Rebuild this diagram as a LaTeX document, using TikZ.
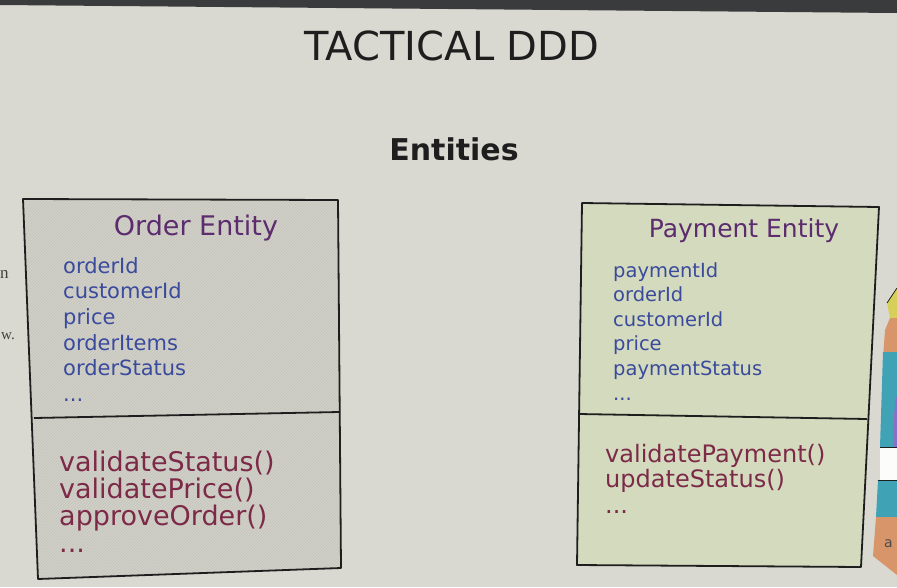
\documentclass[tikz,border=0pt]{standalone}
\usepackage{fontspec}
\setmainfont{DejaVu Sans}
\newfontfamily\paperfont{Liberation Serif}
\usetikzlibrary{patterns}
\definecolor{screen}{HTML}{D9D9D1}
\definecolor{bezel}{HTML}{3A3B3D}
\definecolor{ink}{HTML}{1E1E1E}
\definecolor{orderfill}{HTML}{D1D1C9}
\definecolor{orderhatch}{HTML}{C3C3BA}
\definecolor{payfill}{HTML}{D3DABD}
\definecolor{entname}{HTML}{5C2C6E}
\definecolor{attrcol}{HTML}{3A4A9C}
\definecolor{methodcol}{HTML}{7C2A48}
\definecolor{hexyellow}{HTML}{D6D05A}
\definecolor{hexorange}{HTML}{D8956A}
\definecolor{hexteal}{HTML}{3FA3B5}
\definecolor{hexpurple}{HTML}{8A6FC4}

\tikzset{
  boxline/.style={draw=ink, line width=1.8pt, line join=round},
  entitytitle/.style={entname, anchor=base, font=\fontsize{25}{29}\selectfont},
  attrlist/.style={attrcol, align=left, anchor=north west, inner sep=0pt,
    font=\fontsize{19.5}{24.6}\selectfont},
  methodlist/.style={methodcol, align=left, anchor=north west, inner sep=0pt,
    font=\fontsize{24}{25.5}\selectfont},
}

\begin{document}
\begin{tikzpicture}[x=1pt,y=-1pt]
  \useasboundingbox (0,0) rectangle (897,587);
  \fill[screen] (0,0) rectangle (897,587);
  \fill[bezel] (0,0) -- (897,0) -- (897,13) -- (0,5) -- cycle;

  % Headings
  \node[ink, anchor=base, font=\fontsize{40}{44}\selectfont] (title) at (452,60) {TACTICAL DDD};
  \node[ink, anchor=base, font=\fontsize{30}{34}\selectfont\bfseries] (sub) at (454,160) {Entities};

  % Left: order entity
  \coordinate (otl) at (23,199);
  \coordinate (otr) at (338,200);
  \coordinate (obr) at (341,568);
  \coordinate (obl) at (38,579);
  \coordinate (odl) at (34,418);
  \coordinate (odr) at (339,412);
  \fill[orderfill] (otl) -- (otr) -- (obr) -- (obl) -- cycle;
  \fill[pattern=north east lines, pattern color=orderhatch] (otl) -- (otr) -- (obr) -- (obl) -- cycle;
  \draw[boxline] (otl) -- (otr) -- (obr) -- (obl) -- cycle;
  \draw[boxline] (odl) -- (odr);
  \node[entitytitle, font=\fontsize{27}{31}\selectfont] (orderName) at (196,235) {Order Entity};
  \node[attrlist, font=\fontsize{21}{25.7}\selectfont] (orderAttrs) at (63,257) {orderId\\customerId\\price\\orderItems\\orderStatus\\...};
  \node[methodlist, font=\fontsize{27}{27}\selectfont] (orderMethods) at (59,450.5) {validateStatus()\\validatePrice()\\approveOrder()\\...};

  % Right: payment entity
  \coordinate (ptl) at (582,203);
  \coordinate (ptr) at (879,207);
  \coordinate (pbr) at (861,567);
  \coordinate (pbl) at (577,565);
  \coordinate (pdl) at (579,414);
  \coordinate (pdr) at (867,419);
  \fill[payfill] (ptl) -- (ptr) -- (pbr) -- (pbl) -- cycle;
  \draw[boxline] (ptl) -- (ptr) -- (pbr) -- (pbl) -- cycle;
  \draw[boxline] (pdl) -- (pdr);
  \node[entitytitle] (payName) at (744,237) {Payment Entity};
  \node[attrlist] (payAttrs) at (613,262) {paymentId\\orderId\\customerId\\price\\paymentStatus\\...};
  \node[methodlist] (payMethods) at (605,444) {validatePayment()\\updateStatus()\\...};

  % Edges of the photo: paper on the left, a coloured shape on the right
  \node[black!75, anchor=base west, inner sep=0pt, font=\fontsize{17}{20}\selectfont\paperfont] (paperN) at (0,278) {n};
  \node[black!75, anchor=base west, inner sep=0pt, font=\fontsize{15}{20}\selectfont\paperfont] (paperW) at (1,339) {w.};
  \begin{scope}
    \clip (870,0) rectangle (897,587);
    \fill[hexyellow] (897,288) -- (887,303) -- (890,318) -- (897,318) -- cycle;
    \fill[hexorange] (890,318) -- (885,330) -- (883,358) -- (897,358) -- (897,318) -- cycle;
    \fill[hexteal] (883,352) -- (880,447) -- (897,447) -- (897,352) -- cycle;
    \fill[hexpurple] (897,395) .. controls (893,410) and (893,440) .. (894,447) -- (897,447) -- cycle;
    \fill[white!92!screen] (880,447) rectangle (897,480);
    \fill[hexteal] (878,480) -- (876,517) -- (897,517) -- (897,480) -- cycle;
    \fill[hexorange] (876,517) -- (873,556) -- (897,575) -- (897,517) -- cycle;
    \draw[ink, line width=0.8pt] (887,303) -- (897,288);
    \draw[ink, line width=0.8pt] (880,447) -- (897,447) (878,480) -- (897,480);
  \end{scope}
  \node[ink!80, font=\fontsize{14}{16}\selectfont, anchor=base west, inner sep=0pt] (hexText) at (884,547) {a};
\end{tikzpicture}
\end{document}
